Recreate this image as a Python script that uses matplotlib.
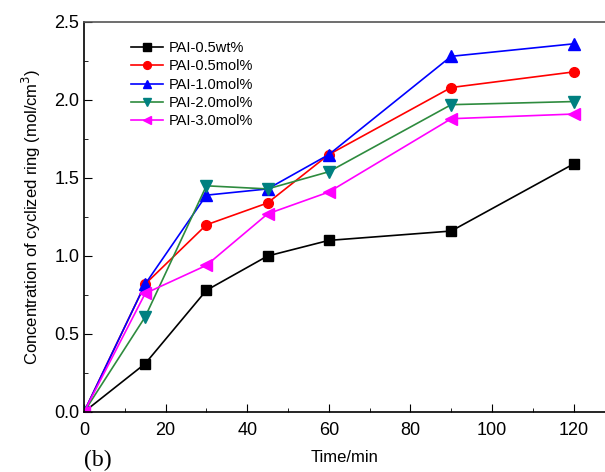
import matplotlib
matplotlib.use('Agg')
import matplotlib.pyplot as plt
from matplotlib.ticker import MultipleLocator, FormatStrFormatter

time = [0, 15, 30, 45, 60, 90, 120]
wt05 = [0, 0.31, 0.78, 1.00, 1.10, 1.16, 1.59]
mol05 = [0, 0.82, 1.20, 1.34, 1.65, 2.08, 2.18]
mol10 = [0, 0.82, 1.39, 1.43, 1.65, 2.28, 2.36]
mol20 = [0, 0.61, 1.45, 1.43, 1.54, 1.97, 1.99]
mol30 = [0, 0.76, 0.94, 1.27, 1.41, 1.88, 1.91]

plt.rcParams['font.family'] = ['Liberation Sans', 'DejaVu Sans']

fig = plt.figure(figsize=(6.05, 4.72), dpi=100)
ax = fig.add_axes([84 / 605, 60 / 472, 521 / 605, 390 / 472])

ms = 7
ax.plot(time, wt05, color='black', marker='s', ms=ms, lw=1.2, label='PAI-0.5wt%')
ax.plot(time, mol05, color='red', marker='o', ms=ms, lw=1.2, label='PAI-0.5mol%')
ax.plot(time, mol10, color='blue', marker='^', ms=ms + 1, lw=1.2, label='PAI-1.0mol%')
ax.plot(time, mol20, color='#2e8b3e', marker='v', ms=ms + 1, lw=1.2,
        markerfacecolor='#008080', markeredgecolor='#008080', label='PAI-2.0mol%')
ax.plot(time, mol30, color='magenta', marker='<', ms=ms + 1, lw=1.2, label='PAI-3.0mol%')

ax.set_xlim(0, 127.7)
ax.set_ylim(0, 2.5)
ax.xaxis.set_major_locator(MultipleLocator(20))
ax.xaxis.set_minor_locator(MultipleLocator(10))
ax.yaxis.set_major_locator(MultipleLocator(0.5))
ax.yaxis.set_minor_locator(MultipleLocator(0.25))
ax.yaxis.set_major_formatter(FormatStrFormatter('%.1f'))
ax.tick_params(which='both', direction='in', top=False, right=False, labelsize=13)
ax.tick_params(axis='x', which='major', pad=7)
ax.tick_params(which='major', length=6)
ax.tick_params(which='minor', length=3)
ax.spines['right'].set_visible(False)
ax.spines['top'].set_color('#555555')
for s in ax.spines.values():
    s.set_linewidth(1.2)

ax.set_xlabel('Time/min', fontsize=12, labelpad=8)
ax.set_ylabel('Concentration of cyclized ring (mol/cm$^3$)', fontsize=12, labelpad=8)

ax.legend(loc='upper left', bbox_to_anchor=(0.065, 0.985), frameon=False, fontsize=10.5,
          handlelength=2.2, labelspacing=0.3, handletextpad=0.4, markerscale=0.8)

fig.text(84 / 605, 6 / 472, '(b)', fontsize=17, family='Liberation Serif')

fig.savefig('out.png', dpi=100)
